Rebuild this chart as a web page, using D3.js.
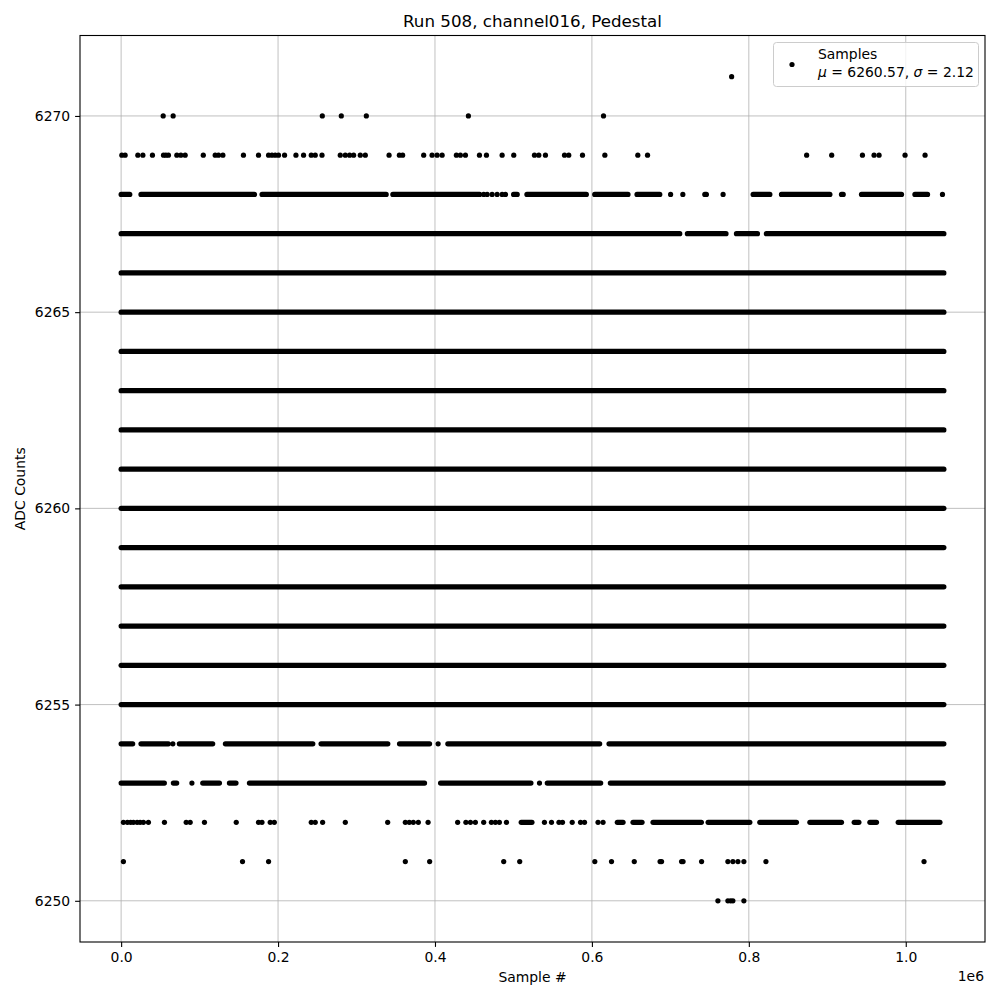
<!DOCTYPE html>
<html>
<head>
<meta charset="utf-8">
<script src="https://cdn.jsdelivr.net/npm/d3@7"></script>
<style>
  html, body { margin: 0; padding: 0; background: #ffffff; }
  svg { display: block; font-family: "DejaVu Sans", sans-serif; }
</style>
</head>
<body>
<svg id="chart" width="1000" height="1000"></svg>
<script>
// ---------------- data (sample index, ADC counts) ----------------
const title = "Run 508, channel016, Pedestal";
const xLabel = "Sample #";
const yLabel = "ADC Counts";
const legendLabel = "Samples";
const legendMu = "6260.57";
const legendSigma = "2.12";

const sampleMin = 0;
const sampleMax = 1048575;
const adcMin = 6250;
const adcMax = 6271;

const xTicks = [0, 200000, 400000, 600000, 800000, 1000000];
const xTickLabels = ["0.0", "0.2", "0.4", "0.6", "0.8", "1.0"];
const yTicks = [6250, 6255, 6260, 6265, 6270];

// levels where samples occur continuously over the full run
const solidLevels = [6255, 6256, 6257, 6258, 6259, 6260, 6261, 6262, 6263, 6264, 6265, 6266];

// runs of consecutive samples [first, last] per level
const runs6267 = [[0, 712000], [721700, 770900], [784200, 811000], [822400, 1048575]];
const runs6268 = [[0, 11000], [25300, 169900], [179600, 337800], [346300, 456900],
  [500200, 504800], [517200, 592900], [603600, 646000], [657500, 686500],
  [743900, 745900], [805500, 826800], [841600, 903300], [918100, 920300],
  [943600, 994600], [1011700, 1027800]];
const runs6254 = [[0, 14700], [25300, 60200], [74200, 116700], [132900, 244300],
  [254800, 339900], [354800, 393100], [416400, 609900], [621800, 1048575]];
const runs6253 = [[0, 55100], [66600, 70800], [104000, 125300], [138000, 146400],
  [163500, 386700], [407100, 522300], [543100, 611200], [623500, 1047800]];
const runs6252 = [[509900, 523600], [632400, 639700], [652400, 663900], [677900, 739500],
  [748100, 801300], [814000, 860700], [877800, 918100], [934300, 940300],
  [954300, 962700], [990400, 1043600]];

// isolated samples per level
const pts6271 = [778100];
const pts6270 = [53600, 66300, 256400, 280600, 312500, 442600, 614800];
const pts6269 = [900, 5100, 21300, 27700, 39900, 54000, 57000, 60300, 71000, 76100, 81600,
  104700, 119900, 124100, 129700, 155900, 175100, 187900, 192200, 196400, 200600, 208300,
  222800, 232500, 242300, 247400, 256000, 279300, 285700, 291200, 296300, 304800, 311200,
  341500, 354600, 358800, 385600, 396300, 402700, 409100, 427300, 432400, 438800, 456700,
  465600, 485600, 500400, 526800, 532300, 540800, 565100, 570500, 588000, 616500, 658500,
  670900, 873700, 905600, 944800, 959600, 966000, 999100, 1024600];
const pts6268 = [462100, 466500, 472800, 479200, 485600, 489800, 700300, 715900, 767200, 1046800];
const pts6254 = [65900, 404000];
const pts6253 = [90200, 533200];
const pts6252 = [2900, 8000, 12100, 15700, 20400, 24200, 28400, 34800, 55200, 82900, 88000,
  106200, 146700, 175100, 179500, 190000, 195200, 242300, 247400, 256800, 285700, 339700,
  362200, 367300, 372400, 378800, 391200, 428900, 439400, 445200, 451500, 462100, 471900,
  477000, 482100, 491100, 539500, 548500, 558000, 562500, 574900, 585500, 590600, 607800,
  614200];
const pts6251 = [2900, 154700, 187900, 362200, 393200, 487600, 508000, 603700, 625000, 654000,
  686900, 688800, 714300, 716200, 739800, 773300, 779700, 786100, 793700, 821800, 1023300];
const pts6250 = [760600, 773300, 776800, 779700, 793700];

// ---------------- build tables ----------------
const runs = [];
solidLevels.forEach(v => runs.push({ v, a: sampleMin, b: sampleMax }));
[[6267, runs6267], [6268, runs6268], [6254, runs6254], [6253, runs6253], [6252, runs6252]]
  .forEach(([v, arr]) => arr.forEach(([a, b]) => runs.push({ v, a, b })));

const points = [];
[[6271, pts6271], [6270, pts6270], [6269, pts6269], [6268, pts6268], [6254, pts6254],
 [6253, pts6253], [6252, pts6252], [6251, pts6251], [6250, pts6250]]
  .forEach(([v, arr]) => arr.forEach(s => points.push({ v, s })));

// ---------------- layout ----------------
const L = 80, R = 985, T = 35.5, B = 942;
const svg = d3.select("#chart");
svg.append("rect").attr("width", 1000).attr("height", 1000).attr("fill", "#fff");

const xPad = 0.05 * (sampleMax - sampleMin);
const yPad = 0.05 * (adcMax - adcMin);
const x = d3.scaleLinear().domain([sampleMin - xPad, sampleMax + xPad]).range([L, R]);
const y = d3.scaleLinear().domain([adcMin - yPad, adcMax + yPad]).range([B, T]);

// grid
const grid = svg.append("g").attr("stroke", "#b0b0b0").attr("stroke-width", 0.8);
grid.selectAll(".gx").data(xTicks).join("line")
  .attr("x1", d => x(d)).attr("x2", d => x(d)).attr("y1", T).attr("y2", B);
grid.selectAll(".gy").data(yTicks).join("line")
  .attr("y1", d => y(d)).attr("y2", d => y(d)).attr("x1", L).attr("x2", R);

// data
const r = 2.6;
const plot = svg.append("g");
plot.selectAll("line.run").data(runs).join("line")
  .attr("class", "run")
  .attr("x1", d => x(d.a)).attr("x2", d => x(d.b))
  .attr("y1", d => y(d.v)).attr("y2", d => y(d.v))
  .attr("stroke", "#000").attr("stroke-width", 2 * r).attr("stroke-linecap", "round");
plot.selectAll("circle").data(points).join("circle")
  .attr("cx", d => x(d.s)).attr("cy", d => y(d.v)).attr("r", r).attr("fill", "#000");

// axes
const fontSize = 13.9;
const xAxis = d3.axisBottom(x).tickValues(xTicks)
  .tickFormat((d, i) => xTickLabels[i]).tickSize(4.9).tickPadding(4.9);
const yAxis = d3.axisLeft(y).tickValues(yTicks).tickFormat(d3.format("d"))
  .tickSize(4.9).tickPadding(4.9);
const gx = svg.append("g").attr("transform", `translate(0,${B})`).call(xAxis);
const gy = svg.append("g").attr("transform", `translate(${L},0)`).call(yAxis);
[gx, gy].forEach(g => {
  g.select(".domain").remove();
  g.selectAll(".tick line").attr("stroke", "#000").attr("stroke-width", 1.1);
  g.selectAll(".tick text").attr("fill", "#000")
    .style("font-family", "DejaVu Sans").style("font-size", fontSize + "px");
});
gx.selectAll(".tick text").attr("dy", "0.71em");

// spines
svg.append("rect").attr("x", L).attr("y", T).attr("width", R - L).attr("height", B - T)
  .attr("fill", "none").attr("stroke", "#000").attr("stroke-width", 1.1);

// texts
svg.append("text").attr("x", (L + R) / 2).attr("y", 27).attr("text-anchor", "middle")
  .style("font-size", "16.7px").text(title);
svg.append("text").attr("x", (L + R) / 2).attr("y", 982).attr("text-anchor", "middle")
  .style("font-size", fontSize + "px").text(xLabel);
svg.append("text").attr("transform", `translate(25,${(T + B) / 2}) rotate(-90)`)
  .attr("text-anchor", "middle").style("font-size", fontSize + "px").text(yLabel);
svg.append("text").attr("x", R - 1).attr("y", 980.5).attr("text-anchor", "end")
  .style("font-size", fontSize + "px").text("1e6");

// legend
const lg = svg.append("g");
lg.append("rect").attr("x", 773.5).attr("y", 42.5).attr("width", 205).attr("height", 44)
  .attr("rx", 3).attr("fill", "#fff").attr("fill-opacity", 0.8)
  .attr("stroke", "#cccccc").attr("stroke-width", 1);
lg.append("circle").attr("cx", 792).attr("cy", 64.5).attr("r", r).attr("fill", "#000");
lg.append("text").attr("x", 818).attr("y", 59).style("font-size", fontSize + "px").text(legendLabel);
const t2 = lg.append("text").attr("x", 818).attr("y", 77).style("font-size", fontSize + "px");
t2.append("tspan").style("font-style", "italic").text("μ");
t2.append("tspan").text(" = " + legendMu + ", ");
t2.append("tspan").style("font-style", "italic").text("σ");
t2.append("tspan").text(" = " + legendSigma);
</script>
</body>
</html>
